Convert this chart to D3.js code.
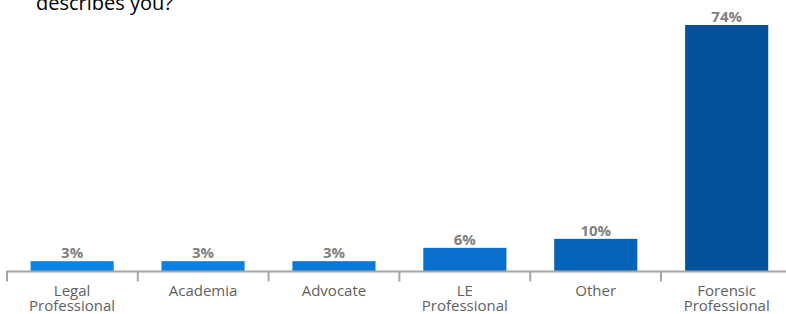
<!DOCTYPE html>
<html>
<head>
  <meta charset="utf-8">
  <title>Which best describes you?</title>
  <style>
    body { margin: 0; background: #fff; }
    svg { display: block; font-family: "Open Sans", "Noto Sans", sans-serif; }
  </style>
</head>
<body>
  <div id="chart"></div>
  <script src="https://d3js.org/d3.v7.min.js"></script>
  <script>
    // data
    const categories = [["Legal", "Professional"], ["Academia"], ["Advocate"], ["LE", "Professional"], ["Other"], ["Forensic", "Professional"]];
    const values = [3.1, 3.1, 3.1, 7.1, 9.8, 74];
    const valueLabels = ["3%", "3%", "3%", "6%", "10%", "74%"];
    const colors = ["#0a84e6", "#0a80e4", "#0a78d8", "#0870cc", "#0664b8", "#06529a"];

    const width = 786, height = 314;
    const x0 = 7, baseY = 271.5, band = 130.8;

    const svg = d3.select("#chart").append("svg")
      .attr("width", width)
      .attr("height", height);

    const idx = d3.range(categories.length);

    const xScale = d3.scaleBand()
      .domain(idx)
      .range([x0, x0 + band * categories.length])
      .paddingInner(0.365)
      .paddingOuter(0.18);

    const yScale = d3.scaleLinear()
      .domain([0, 74])
      .range([baseY, 25]);

    // title (first line is off the top of the frame)
    svg.append("text")
      .attr("x", 36)
      .attr("y", 10)
      .attr("font-size", 20)
      .attr("fill", "#000")
      .text("describes you?");

    svg.selectAll(".bar")
      .data(idx)
      .join("rect")
      .attr("class", "bar")
      .attr("x", i => xScale(i))
      .attr("width", xScale.bandwidth())
      .attr("y", i => yScale(values[i]))
      .attr("height", i => baseY - yScale(values[i]))
      .attr("fill", i => colors[i]);

    svg.selectAll(".val")
      .data(idx)
      .join("text")
      .attr("class", "val")
      .attr("x", i => xScale(i) + xScale.bandwidth() / 2)
      .attr("y", i => yScale(values[i]) - 3)
      .attr("text-anchor", "middle")
      .attr("font-size", 15)
      .attr("font-weight", "bold")
      .attr("fill", "#7f7f7f")
      .text(i => valueLabels[i]);

    // axis line + ticks
    const axis = svg.append("g").attr("stroke", "#a6a6a6").attr("stroke-width", 2);
    axis.append("line")
      .attr("x1", x0 - 1).attr("x2", width)
      .attr("y1", baseY).attr("y2", baseY);
    axis.selectAll(".tick")
      .data(d3.range(categories.length + 1))
      .join("line")
      .attr("x1", i => x0 + i * band).attr("x2", i => x0 + i * band)
      .attr("y1", baseY).attr("y2", baseY + 10);

    // category labels, one text per line
    const lines = idx.flatMap(i => categories[i].map((t, k) => ({ t, k, i })));
    svg.selectAll(".cat")
      .data(lines)
      .join("text")
      .attr("class", "cat")
      .attr("x", d => xScale(d.i) + xScale.bandwidth() / 2)
      .attr("y", d => 296 + d.k * 15)
      .attr("text-anchor", "middle")
      .attr("font-size", 15)
      .attr("fill", "#5f5f5f")
      .text(d => d.t);
  </script>
</body>
</html>
